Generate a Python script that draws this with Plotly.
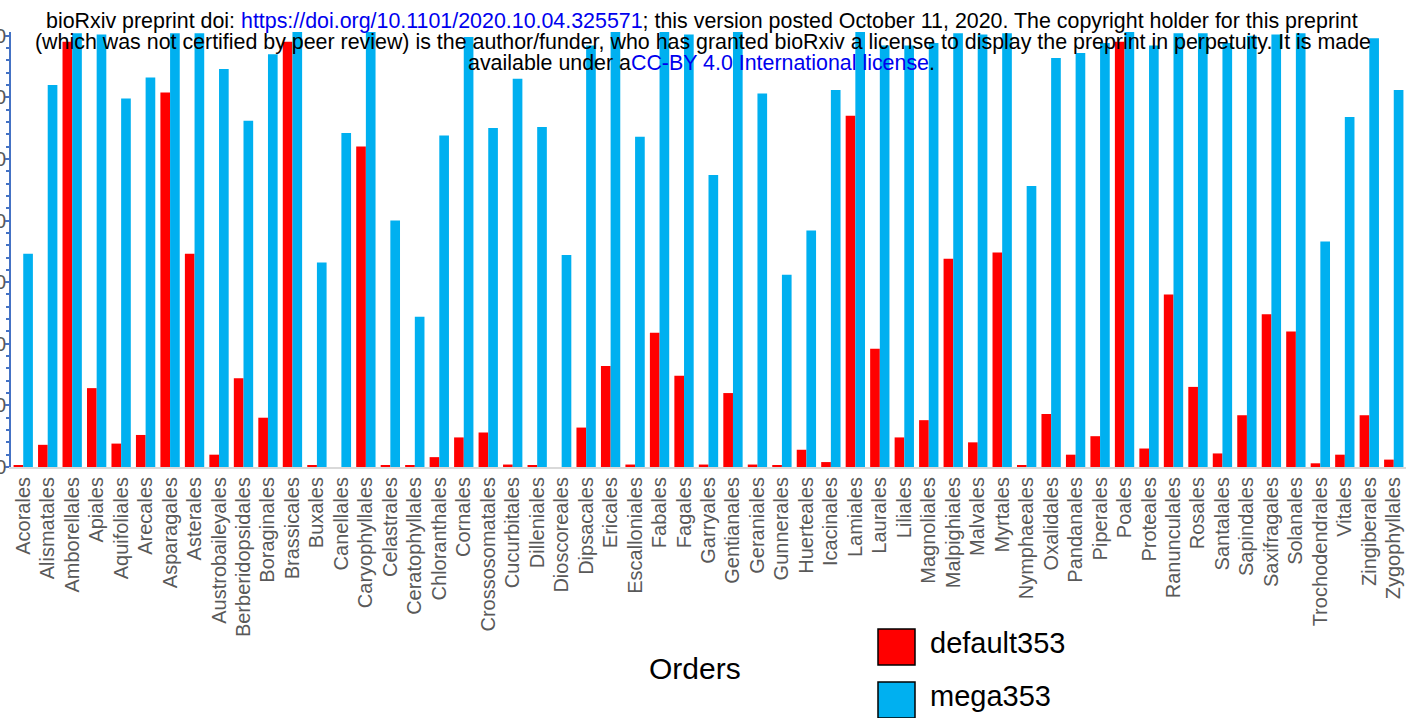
import plotly.graph_objects as go

categories = [
    "Acorales", "Alismatales", "Amborellales", "Apiales", "Aquifoliales", "Arecales",
    "Asparagales", "Asterales", "Austrobaileyales", "Berberidopsidales", "Boraginales",
    "Brassicales", "Buxales", "Canellales", "Caryophyllales", "Celastrales",
    "Ceratophyllales", "Chloranthales", "Cornales", "Crossosomatales", "Cucurbitales",
    "Dilleniales", "Dioscoreales", "Dipsacales", "Ericales", "Escalloniales", "Fabales",
    "Fagales", "Garryales", "Gentianales", "Geraniales", "Gunnerales", "Huerteales",
    "Icacinales", "Lamiales", "Laurales", "Liliales", "Magnoliales", "Malpighiales",
    "Malvales", "Myrtales", "Nymphaeales", "Oxalidales", "Pandanales", "Piperales",
    "Poales", "Proteales", "Ranunculales", "Rosales", "Santalales", "Sapindales",
    "Saxifragales", "Solanales", "Trochodendrales", "Vitales", "Zingiberales",
    "Zygophyllales",
]

default353 = [
    1, 18, 345, 64, 19, 26, 304, 173, 10, 72, 40, 345, 1, 0, 260, 1, 1, 8, 24, 28, 2,
    1, 0, 32, 82, 2, 109, 74, 2, 60, 2, 1, 14, 4, 285, 96, 24, 38, 169, 20, 174, 1,
    43, 10, 25, 345, 15, 140, 65, 11, 42, 124, 110, 3, 10, 42, 6,
]

mega353 = [
    173, 310, 352, 351, 299, 316, 352, 352, 323, 281, 335, 353, 166, 271, 353, 200,
    122, 269, 349, 275, 315, 276, 172, 342, 353, 268, 353, 351, 237, 353, 303, 156,
    192, 306, 353, 342, 342, 344, 352, 351, 352, 228, 332, 336, 344, 353, 342, 352,
    352, 344, 350, 351, 352, 183, 284, 348, 306,
]

series_names = ["default353", "mega353"]
series_colors = ["#FF0000", "#00B0F0"]
y_ticks = [0, 50, 100, 150, 200, 250, 300, 350]

W, H = 1406, 718
L, R, T, B = 11, 0, 32, 251
FONT = "Liberation Sans, Arial, sans-serif"

fig = go.Figure()
for name, vals, col in zip(series_names, [default353, mega353], series_colors):
    fig.add_trace(go.Bar(
        x=categories, y=vals, name=name,
        marker=dict(color=col, line=dict(width=0)),
        showlegend=False,
    ))

fig.update_layout(
    width=W, height=H,
    margin=dict(l=L, r=R, t=T, b=B, autoexpand=False),
    paper_bgcolor="white", plot_bgcolor="white",
    barmode="group", bargap=0.21, bargroupgap=0,
    font=dict(family=FONT),
)

fig.update_xaxes(
    type="category", showline=True, linecolor="#D9D9D9", linewidth=2,
    ticks="", tickangle=-90, tickfont=dict(size=20, color="#595959"),
    showgrid=False, automargin=False,
)
fig.update_yaxes(
    range=[0, 353], tickvals=y_ticks, ticks="outside", ticklen=5, tickwidth=1.5,
    tickcolor="#4472C4", showline=True, linecolor="#4472C4", linewidth=1.5,
    tickfont=dict(size=20, color="#595959"), showgrid=False, zeroline=False,
    automargin=False, ticklabelstandoff=-6,
    minor=dict(dtick=10, ticks="outside", ticklen=3, tickcolor="#4472C4", showgrid=False),
)

pw = W - L - R
ph = H - T - B


def px(x):
    return (x - L) / pw


def py(y):
    return (H - B - y) / ph


# header (preprint notice)
hdr_font = dict(family=FONT, size=21.4, color="black")
link = "#0000EE"
header_lines = [
    ("bioRxiv preprint doi: <span style='color:%s'>https://doi.org/10.1101/2020.10.04.325571</span>; "
     "this version posted October 11, 2020. The copyright holder for this preprint" % link, 702, 21),
    ("(which was not certified by peer review) is the author/funder, who has granted bioRxiv a license "
     "to display the preprint in perpetuity. It is made", 703, 42),
    ("available under a<span style='color:%s'>CC-BY 4.0 International license</span>." % link, 701, 63),
]
for txt, cx, cy in header_lines:
    fig.add_annotation(text=txt, xref="paper", yref="paper", x=px(cx), y=py(cy),
                       xanchor="center", yanchor="middle", showarrow=False,
                       font=hdr_font)

# axis title
fig.add_annotation(text="Orders", xref="paper", yref="paper", x=px(695), y=py(668),
                   xanchor="center", yanchor="middle", showarrow=False,
                   font=dict(family=FONT, size=30, color="black"))

# legend
leg_rows = [647, 700]
for name, col, cy in zip(series_names, series_colors, leg_rows):
    fig.add_shape(type="rect", xref="paper", yref="paper",
                  x0=px(878), x1=px(915), y0=py(cy - 18), y1=py(cy + 18),
                  fillcolor=col, line=dict(color="black", width=1.5))
    fig.add_annotation(text=name, xref="paper", yref="paper", x=px(928), y=py(cy - 4),
                       xanchor="left", yanchor="middle", showarrow=False,
                       font=dict(family=FONT, size=29, color="black"))

fig.write_html("out.html", config={"displayModeBar": False},
               post_script="document.body.style.margin='0';")
